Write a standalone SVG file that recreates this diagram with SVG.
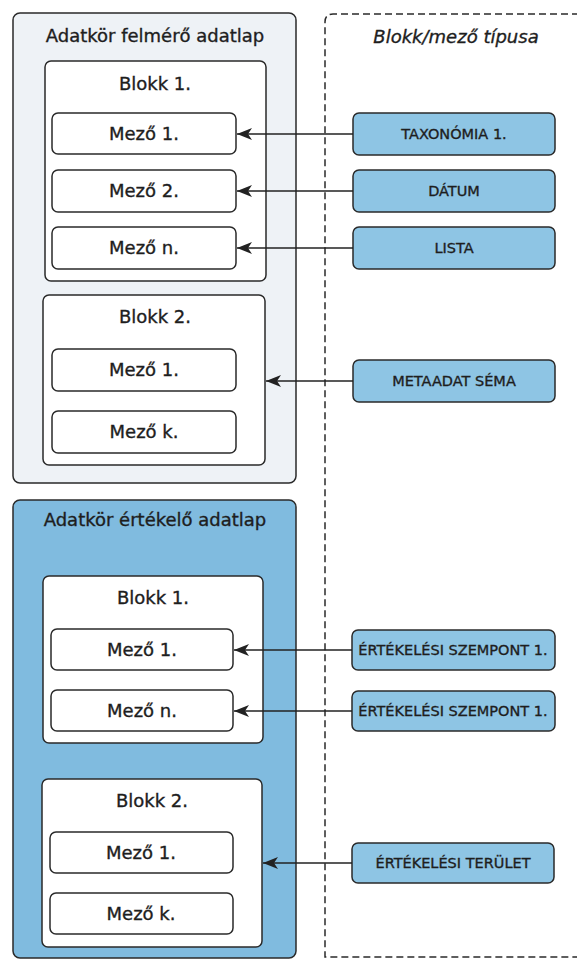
<svg xmlns="http://www.w3.org/2000/svg" width="577" height="961" viewBox="0 0 577 961">
<style>
.outer1{fill:#eef2f6;stroke:#2a2a2a;stroke-width:1.5}
.outer2{fill:#80bbdf;stroke:#2a2a2a;stroke-width:1.5}
.blk{fill:#ffffff;stroke:#2a2a2a;stroke-width:1.5}
.fld{fill:#ffffff;stroke:#2a2a2a;stroke-width:1.5}
.typ{fill:#8ec5e4;stroke:#2a2a2a;stroke-width:1.5}
.dash{fill:none;stroke:#2a2a2a;stroke-width:1.5;stroke-dasharray:7 4}
text{font-family:"DejaVu Sans","Open Sans",sans-serif;fill:#1e1e1e;stroke:#1e1e1e;stroke-width:0.35;text-anchor:middle}
.t1{font-size:18px}
.t2{font-size:18px}
.t3{font-size:14.5px}
.ti{font-size:18px;font-style:italic}
.con{stroke:#222;stroke-width:1.5;fill:none;marker-end:url(#ah)}
</style>
<defs>
<marker id="ah" viewBox="0 0 15 12" refX="15" refY="6" markerWidth="15" markerHeight="12" markerUnits="userSpaceOnUse" orient="auto">
<path d="M0,0 L15,6 L0,12 L4,6 Z" fill="#222"/>
</marker>
</defs>
<g id="type-area">
<path class="dash" d="M590,14 L333,14 Q325,14 325,22 L325,957 L590,957"/>
<text class="ti" x="456" y="43">Blokk/mező típusa</text>
</g>
<g id="felmero">
<rect class="outer1" x="13" y="13" width="283" height="470" rx="7"/>
<text class="t1" x="155" y="42">Adatkör felmérő adatlap</text>
</g>
<g id="f-blokk1">
<rect class="blk" x="45" y="61" width="221" height="220" rx="6"/>
<text class="t2" x="155" y="90">Blokk 1.</text>
</g>
<g id="f-b1-mezo1"><rect class="fld" x="52" y="113" width="184" height="41" rx="6"/><text class="t2" x="144" y="140">Mező 1.</text></g>
<g id="f-b1-mezo2"><rect class="fld" x="52" y="170" width="184" height="42" rx="6"/><text class="t2" x="144" y="197">Mező 2.</text></g>
<g id="f-b1-mezon"><rect class="fld" x="52" y="227" width="184" height="42" rx="6"/><text class="t2" x="144" y="254">Mező n.</text></g>
<g id="f-blokk2">
<rect class="blk" x="43" y="295" width="222" height="170" rx="6"/>
<text class="t2" x="155" y="323">Blokk 2.</text>
</g>
<g id="f-b2-mezo1"><rect class="fld" x="52" y="349" width="184" height="42" rx="6"/><text class="t2" x="144" y="376">Mező 1.</text></g>
<g id="f-b2-mezok"><rect class="fld" x="52" y="411" width="184" height="42" rx="6"/><text class="t2" x="144" y="438">Mező k.</text></g>
<g id="ertekelo">
<rect class="outer2" x="13" y="500" width="283" height="458" rx="7"/>
<text class="t1" x="155" y="526">Adatkör értékelő adatlap</text>
</g>
<g id="e-blokk1">
<rect class="blk" x="43" y="576" width="220" height="167" rx="6"/>
<text class="t2" x="153" y="604">Blokk 1.</text>
</g>
<g id="e-b1-mezo1"><rect class="fld" x="51" y="629" width="182" height="41" rx="6"/><text class="t2" x="142" y="656">Mező 1.</text></g>
<g id="e-b1-mezon"><rect class="fld" x="51" y="690" width="182" height="41" rx="6"/><text class="t2" x="142" y="717">Mező n.</text></g>
<g id="e-blokk2">
<rect class="blk" x="42" y="779" width="220" height="168" rx="6"/>
<text class="t2" x="152" y="807">Blokk 2.</text>
</g>
<g id="e-b2-mezo1"><rect class="fld" x="50" y="832" width="183" height="41" rx="6"/><text class="t2" x="141" y="859">Mező 1.</text></g>
<g id="e-b2-mezok"><rect class="fld" x="50" y="893" width="183" height="41" rx="6"/><text class="t2" x="141" y="920">Mező k.</text></g>
<g id="t-taxonomia"><rect class="typ" x="353" y="113" width="202" height="42" rx="6"/><text class="t3" x="454" y="139">TAXONÓMIA 1.</text></g>
<g id="t-datum"><rect class="typ" x="353" y="170" width="202" height="42" rx="6"/><text class="t3" x="454" y="196">DÁTUM</text></g>
<g id="t-lista"><rect class="typ" x="353" y="227" width="202" height="42" rx="6"/><text class="t3" x="454" y="253">LISTA</text></g>
<g id="t-metaadat"><rect class="typ" x="353" y="360" width="202" height="42" rx="6"/><text class="t3" x="454" y="386">METAADAT SÉMA</text></g>
<g id="t-szempont1"><rect class="typ" x="352" y="630" width="203" height="40" rx="6"/><text class="t3" x="453" y="655">ÉRTÉKELÉSI SZEMPONT 1.</text></g>
<g id="t-szempont2"><rect class="typ" x="352" y="691" width="203" height="40" rx="6"/><text class="t3" x="453" y="716">ÉRTÉKELÉSI SZEMPONT 1.</text></g>
<g id="t-terulet"><rect class="typ" x="352" y="843" width="202" height="40" rx="6"/><text class="t3" x="453" y="868">ÉRTÉKELÉSI TERÜLET</text></g>
<g id="connectors">
<line class="con" x1="353" y1="134" x2="237" y2="134"/>
<line class="con" x1="353" y1="191" x2="237" y2="191"/>
<line class="con" x1="353" y1="248" x2="237" y2="248"/>
<line class="con" x1="353" y1="381" x2="266" y2="381"/>
<line class="con" x1="352" y1="650" x2="234" y2="650"/>
<line class="con" x1="352" y1="711" x2="234" y2="711"/>
<line class="con" x1="352" y1="863" x2="263" y2="863"/>
</g>
</svg>
